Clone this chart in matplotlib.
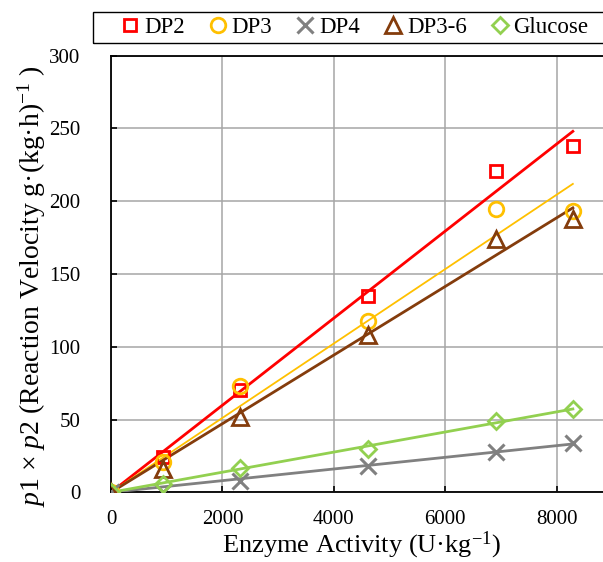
import numpy as np
import matplotlib
matplotlib.use("Agg")
import matplotlib.pyplot as plt
from matplotlib.patches import Rectangle

plt.rcParams['font.family'] = ['Liberation Serif', 'DejaVu Serif']
plt.rcParams['mathtext.fontset'] = 'custom'
plt.rcParams['mathtext.rm'] = 'Liberation Serif'
plt.rcParams['mathtext.it'] = 'Liberation Serif:italic'

# enzyme activity (U/kg) and measured reaction velocities
activite = np.array([0, 930, 2320, 4610, 6910, 8290])
dp2 = np.array([0, 24, 70, 135, 221, 238])
dp3 = np.array([0, 21, 73, 118, 195, 193])
dp4 = np.array([0, 0, 8, 18, 28, 34])
dp36 = np.array([0, 16, 52, 108, 174, 188])
glucose = np.array([0, 6, 17, 30, 49, 57])

series = [
    ("DP2", dp2, 's', '#FF0000', 8.5, 2.0),
    ("DP3", dp3, 'o', '#FFC000', 10.5, 1.3),
    ("DP4", dp4, 'x', '#808080', 11, 2.0),
    ("DP3-6", dp36, '^', '#843C0C', 11, 2.0),
    ("Glucose", glucose, 'D', '#92D050', 8, 2.0),
]

fig = plt.figure(figsize=(6.03, 5.62), dpi=100)
ax = fig.add_axes([111/603, 1 - 492.3/562, (612.4-111)/603, (492.3-55.7)/562])

for nom, y, mk, col, ms, lw in series:
    # droite de tendance passant par l'origine
    pente = np.sum(activite*y) / np.sum(activite**2)
    ax.plot([0, activite[-1]], [0, pente*activite[-1]], color=col, lw=lw, zorder=3)
    ax.plot(activite, y, mk, color=col, mfc='none', mew=2.0 if mk != 'x' else 2.2,
            ms=ms, linestyle='none', label=nom, zorder=4)

ax.set_xlim(0, 9000)
ax.set_ylim(0, 300)
ax.set_xticks([0, 2000, 4000, 6000, 8000])
ax.set_yticks(np.arange(0, 301, 50))
ax.grid(True, color='#A6A6A6', lw=1.1)
ax.set_axisbelow(True)
ax.tick_params(direction='in', length=4, width=1.2, labelsize=15)
ax.tick_params(axis='y', pad=22)
ax.tick_params(axis='x', pad=13)
for s in ax.spines.values():
    s.set_linewidth(1.3)
    s.set_color('black')

ax.set_xlabel("Enzyme Activity (U·kg$^{\u2212 1}$)", fontsize=19, labelpad=0)
ax.set_ylabel(r"$p\mathrm{1}$ × $p\mathrm{2}$ (Reaction Velocity g·(kg·h)$^{-1}$ )", fontsize=20)
ax.yaxis.set_label_coords(-0.125, 0.4725)

# cadre de la légende, plus large que la figure
fig.patches.append(Rectangle((93/603, 1 - 43/562), (640-93)/603, 31/562,
                             transform=fig.transFigure, fill=False, ec='black', lw=1.0))
leg = fig.legend(loc='center left', bbox_to_anchor=(121/603, 1 - 27.5/562),
                 ncol=5, fontsize=16.5, frameon=False, handletextpad=0.2, handlelength=0.8,
                 columnspacing=1.05, borderaxespad=0, borderpad=0)

fig.savefig("out.png", dpi=100)
